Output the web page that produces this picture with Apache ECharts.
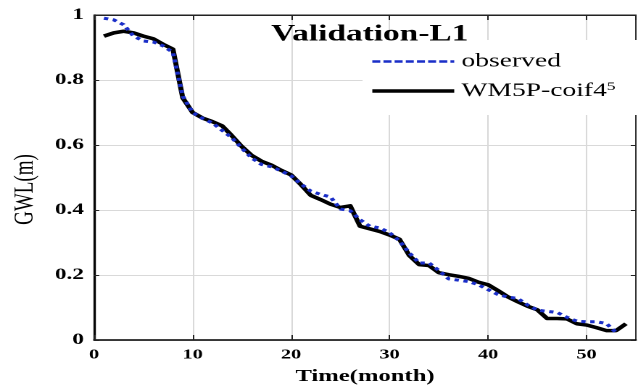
<!DOCTYPE html>
<html>
<head>
<meta charset="utf-8">
<script src="https://cdn.jsdelivr.net/npm/echarts@6/dist/echarts.min.js"></script>
<style>
  html, body { margin: 0; padding: 0; background: #fff; overflow: hidden; }
  /* the figure is laid out narrow and stretched sideways, like the exported plot */
  #chart { width: 440px; height: 390px; transform: scaleX(1.45); transform-origin: 0 0; }
</style>
</head>
<body>
<div id="chart"></div>
<script>
// Time axis (months)
const monthsPredicted = [1,2,3,4,5,6,7,8,9,10,11,12,13,14,15,16,17,18,19,20,21,22,23,24,25,26,27,
  28,29,30,31,32,33,34,35,36,37,38,39,40,41,42,43,44,45,46,47,48,49,50,51,52,53,54];
const monthsObserved = [1,2,3,4,5,6,7,8,9,10,11,12,13,14,15,16,17,18,19,20,21,22,23,24,25,26,27,
  28,29,30,31,32,33,34,35,36,37,38,39,40,41,42,43,44,45,46,47,48,49,50,51,52,53];

// Groundwater level, validation period
const observed = [0.990,0.985,0.970,0.935,0.920,0.917,0.905,0.885,0.750,0.700,0.682,0.668,0.645,
  0.622,0.590,0.560,0.540,0.533,0.520,0.505,0.480,0.458,0.448,0.440,0.403,0.398,0.370,0.350,0.345,
  0.330,0.305,0.268,0.237,0.237,0.214,0.188,0.184,0.180,0.170,0.155,0.140,0.132,0.128,0.108,0.092,
  0.088,0.085,0.070,0.058,0.056,0.056,0.051,0.023];
const predicted = [0.935,0.945,0.950,0.945,0.935,0.927,0.910,0.895,0.745,0.700,0.683,0.672,0.659,
  0.628,0.595,0.568,0.550,0.538,0.522,0.508,0.478,0.445,0.432,0.418,0.408,0.413,0.350,0.342,0.334,
  0.323,0.310,0.260,0.232,0.229,0.207,0.201,0.196,0.190,0.178,0.170,0.152,0.133,0.118,0.104,0.093,
  0.066,0.066,0.065,0.050,0.046,0.038,0.029,0.029,0.050];

const xTickLabels = ['0','10','20','30','40','50'];
const yTickLabels = ['0','0.2','0.4','0.6','0.8','1'];

const serif = "'Liberation Serif', 'Times New Roman', serif";
const pair = (xs, ys) => xs.map((x, i) => [x, ys[i]]);

const frame = '#222';
const gridColor = '#d9d9d9';
const blue = '#1a2ec8';

const chart = echarts.init(document.getElementById('chart'), null, { devicePixelRatio: 2 });

const baseX = { type: 'value', min: 0, max: 55, interval: 10 };
const baseY = { type: 'value', min: 0, max: 1, interval: 0.2 };

chart.setOption({
  animation: false,
  backgroundColor: '#fff',
  title: {
    text: 'Validation-L1',
    left: 250, top: 18, textAlign: 'center',
    textStyle: { fontFamily: serif, fontWeight: 'bold', fontSize: 23, color: '#000' }
  },
  grid: {
    left: 56.5, right: 1.5, top: 15, bottom: 43,
    show: true, borderColor: frame, borderWidth: 1, backgroundColor: 'transparent'
  },
  legend: {
    orient: 'vertical',
    left: 250, top: 40,
    padding: [12, 16, 12, 5],
    backgroundColor: '#fff',
    itemWidth: 56.5, itemHeight: 20, itemGap: 10,
    data: [
      { name: 'observed', itemStyle: { opacity: 0 },
        lineStyle: { type: [5.5, 2.2], width: 2.5, color: blue, opacity: 1 } },
      { name: 'WM5P-coif4', itemStyle: { opacity: 0 },
        lineStyle: { type: 'solid', width: 3.5, color: '#000', opacity: 1 } }
    ],
    formatter: name => name === 'WM5P-coif4' ? '{n|WM5P-coif4}{s|5}' : '{n|' + name + '}',
    textStyle: {
      rich: {
        n: { fontFamily: serif, fontSize: 19, color: '#000', lineHeight: 20 },
        s: { fontFamily: serif, fontSize: 12, color: '#000', lineHeight: 12, verticalAlign: 'top', padding: [0, 0, 10, 0] }
      }
    }
  },
  xAxis: [
    Object.assign({}, baseX, {
      position: 'bottom',
      name: 'Time(month)', nameLocation: 'middle', nameGap: 28,
      nameTextStyle: { fontFamily: serif, fontWeight: 'bold', fontSize: 17, color: '#000' },
      axisLine: { show: true, onZero: false, lineStyle: { color: '#000', width: 1.5 } },
      axisTick: { show: true, inside: true, length: 5, lineStyle: { color: frame } },
      axisLabel: {
        margin: 8, fontFamily: serif, fontWeight: 'bold', fontSize: 14, color: '#000',
        showMaxLabel: false,
        formatter: v => xTickLabels[Math.round(v / 10)] ?? ''
      },
      splitLine: { show: true, lineStyle: { color: gridColor, width: 1 } }
    }),
    Object.assign({}, baseX, {
      position: 'top',
      axisLine: { show: true, onZero: false, lineStyle: { color: frame, width: 1 } },
      axisTick: { show: true, inside: true, length: 5, lineStyle: { color: frame } },
      axisLabel: { show: false },
      splitLine: { show: false }
    })
  ],
  yAxis: [
    Object.assign({}, baseY, {
      position: 'left',
      name: 'GWL(m)', nameLocation: 'middle', nameGap: 30, nameRotate: 90,
      nameTextStyle: { fontFamily: serif, fontSize: 19, color: '#000', padding: [0, 24, 0, 0] },
      axisLine: { show: true, onZero: false, lineStyle: { color: '#000', width: 1.2 } },
      axisTick: { show: true, inside: true, length: 3.5, lineStyle: { color: frame } },
      axisLabel: {
        margin: 7, fontFamily: serif, fontWeight: 'bold', fontSize: 16, color: '#000',
        formatter: v => yTickLabels[Math.round(v / 0.2)] ?? ''
      },
      splitLine: { show: true, lineStyle: { color: gridColor, width: 1 } }
    }),
    Object.assign({}, baseY, {
      position: 'right',
      axisLine: { show: true, onZero: false, lineStyle: { color: frame, width: 0.9 } },
      axisTick: { show: true, inside: true, length: 3.5, lineStyle: { color: frame } },
      axisLabel: { show: false },
      splitLine: { show: false }
    })
  ],
  series: [
    {
      name: 'observed', type: 'line', xAxisIndex: 0, yAxisIndex: 0,
      data: pair(monthsObserved, observed),
      symbol: 'none', z: 3,
      lineStyle: { color: blue, width: 3, type: [3, 3.2] },
      itemStyle: { color: blue }
    },
    {
      name: 'WM5P-coif4', type: 'line', xAxisIndex: 0, yAxisIndex: 0,
      data: pair(monthsPredicted, predicted),
      symbol: 'none', z: 2,
      lineStyle: { color: '#000', width: 3.5, type: 'solid', join: 'round' },
      itemStyle: { color: '#000' }
    },
    {
      // empty series keeps the top/right frame axes active so their ticks are drawn
      name: 'frame', type: 'line', xAxisIndex: 1, yAxisIndex: 1, data: [], silent: true
    }
  ]
});
</script>
</body>
</html>
